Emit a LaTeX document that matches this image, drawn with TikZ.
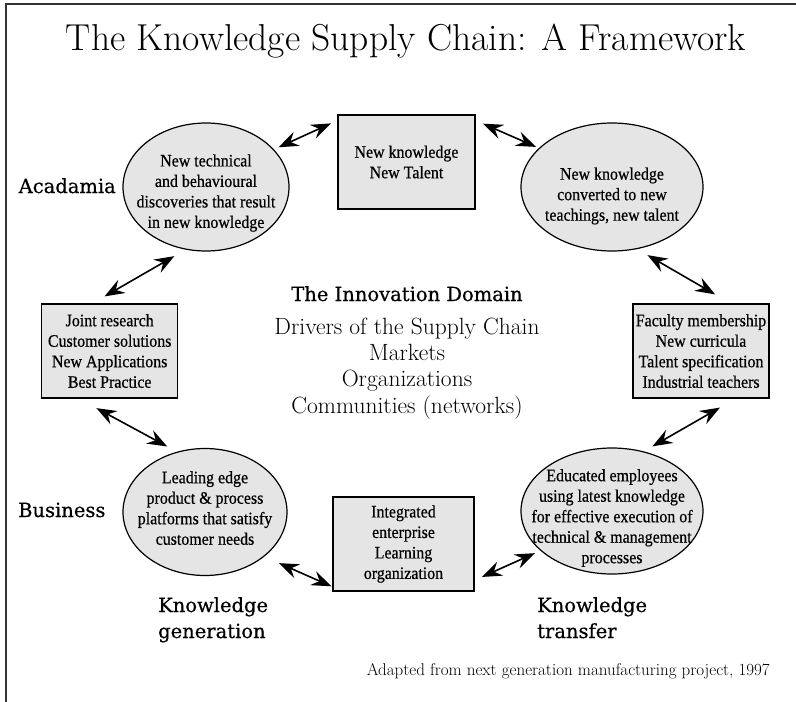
\documentclass[tikz,border=0pt]{standalone}
\usepackage{fontspec}
\newfontfamily\boxfont[FakeStretch=0.91, FakeBold=0.5]{Liberation Serif}
\newfontfamily\headfont[FakeBold=0.6]{DejaVu Serif}
\usetikzlibrary{arrows.meta, positioning, shapes.geometric}

\begin{document}
\begin{tikzpicture}[x=1pt, y=-1pt, >={Stealth[length=20pt, width=15pt, inset=7pt]},
  blob/.style={draw, line width=1.2pt, fill=gray!20, ellipse, inner sep=0pt},
  panel/.style={draw, line width=1.2pt, fill=gray!20, minimum height=94pt, align=center, inner sep=0pt, font=\boxfont\fontsize{17.5}{20.5}\selectfont},
  txt/.style={align=center, inner sep=0pt, font=\boxfont\fontsize{17.5}{20.5}\selectfont},
  head/.style={align=left, inner sep=0pt, font=\headfont\fontsize{19.5}{26}\selectfont},
  drv/.style={align=center, inner sep=0pt, font=\fontsize{23.5}{26.4}\selectfont},
  link/.style={<->, line width=1.6pt}]
\useasboundingbox (0,0) rectangle (796,702);
\draw[line width=1.5pt, black!80] (796,4) -- (6,4) -- (6,702);

\node[anchor=base, inner sep=0pt, font=\fontsize{37.5}{42}\selectfont] (title) at (406,50) {The Knowledge Supply Chain: A Framework};

% the four stages
\node[blob, minimum width=166pt, minimum height=128pt] (TL) at (206,187) {};
\node[txt] (TLt) at ([yshift=-6pt]TL) {New technical\\and behavioural\\discoveries that result\\in new knowledge};
\node[blob, minimum width=182pt, minimum height=128pt] (TR) at (612,187) {};
\node[txt] (TRt) at ([yshift=-9pt]TR) {New knowledge\\converted to new\\teachings, new talent};
\node[blob, minimum width=164pt, minimum height=127pt] (BL) at (205,512) {};
\node[txt] (BLt) at ([yshift=4pt]BL) {Leading edge\\product \& process\\platforms that satisfy\\customer needs};
\node[blob, minimum width=182pt, minimum height=126pt] (BR) at (612,511) {};
\node[txt] (BRt) at ([yshift=-7pt]BR) {Educated employees\\using latest knowledge\\for effective execution of\\technical \& management\\processes};

% the links between them
\node[panel, minimum width=137pt] (TB) at (406.5,162) {New knowledge\\New Talent};
\node[panel, minimum width=136pt] (LB) at (109.7,351) {Joint research\\Customer solutions\\New Applications\\Best Practice};
\node[panel, minimum width=136pt] (RB) at (701,351) {Faculty membership\\New curricula\\Talent specification\\Industrial teachers};
\node[panel, minimum width=141pt] (BB) at (403.5,544) {Integrated\\enterprise\\Learning\\organization};

\node[head, anchor=base east] (acad) at (116,193) {Acadamia};
\node[head, anchor=base west] (bus) at (18,517) {Business};
\node[head, anchor=base west] (gen) at (158,638) {Knowledge\\generation};
\node[head, anchor=base west] (trf) at (537,638) {Knowledge\\transfer};

\node[head, anchor=base] (inno) at (407,301) {The Innovation Domain};
\node[drv, below=16pt of inno] (drivers) {Drivers of the Supply Chain\\Markets\\Organizations\\Communities (networks)};

\node[anchor=base east, inner sep=0pt, font=\fontsize{17}{20}\selectfont] (src) at (770,675) {Adapted from next generation manufacturing project, 1997};

\draw[link, shorten <=5pt, shorten >=7pt] (TL.29) -- (TB.149);
\draw[link, shorten <=8pt, shorten >=3pt] (TB.31) -- (TR.152);
\draw[link, shorten <=12pt, shorten >=18pt] (TR.-68) -- (RB.58);
\draw[link, shorten <=18pt, shorten >=10pt] (RB.-54) -- (BR.62);
\draw[link, shorten <=6pt, shorten >=8pt] (BR.209) -- (BB.-27);
\draw[link, shorten <=1pt, shorten >=16pt] (BB.211) -- (BL.-37);
\draw[link, shorten <=11pt, shorten >=20pt] (BL.115) -- (LB.-123);
\draw[link, shorten <=14pt, shorten >=13pt] (LB.110) -- (TL.-108);
\end{tikzpicture}
\end{document}
